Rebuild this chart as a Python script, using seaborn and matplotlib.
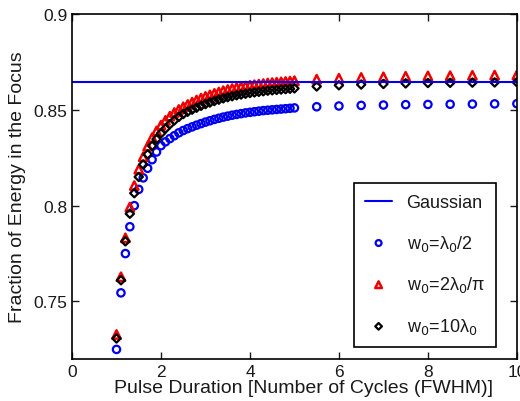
import matplotlib
matplotlib.use("Agg")
import matplotlib.pyplot as plt
import pandas as pd
import seaborn as sns

# pulse duration: dense 0.1 steps up to 5, then 0.5 steps to 10
duration = [1.0, 1.1, 1.2, 1.3, 1.4, 1.5, 1.6, 1.7, 1.8, 1.9,
            2.0, 2.1, 2.2, 2.3, 2.4, 2.5, 2.6, 2.7, 2.8, 2.9,
            3.0, 3.1, 3.2, 3.3, 3.4, 3.5, 3.6, 3.7, 3.8, 3.9,
            4.0, 4.1, 4.2, 4.3, 4.4, 4.5, 4.6, 4.7, 4.8, 4.9,
            5.0, 5.5, 6.0, 6.5, 7.0, 7.5, 8.0, 8.5, 9.0, 9.5, 10.0]

w_half = [0.7250, 0.7545, 0.7750, 0.7890, 0.8000, 0.8085, 0.8145, 0.8195, 0.8240, 0.8280,
          0.8313, 0.8333, 0.8350, 0.8365, 0.8380, 0.8392, 0.8402, 0.8411, 0.8420, 0.8428,
          0.8436, 0.8443, 0.8450, 0.8456, 0.8462, 0.8467, 0.8472, 0.8476, 0.8480, 0.8484,
          0.8487, 0.8490, 0.8493, 0.8496, 0.8498, 0.8500, 0.8502, 0.8504, 0.8506, 0.8508,
          0.8510, 0.8516, 0.8520, 0.8523, 0.8525, 0.8527, 0.8528, 0.8529, 0.8530, 0.8531, 0.8532]

w_2pi = [0.7328, 0.7629, 0.7832, 0.7993, 0.8105, 0.8190, 0.8255, 0.8310, 0.8355, 0.8390,
         0.8420, 0.8445, 0.8467, 0.8486, 0.8502, 0.8516, 0.8528, 0.8540, 0.8551, 0.8561,
         0.8570, 0.8578, 0.8586, 0.8593, 0.8600, 0.8606, 0.8611, 0.8616, 0.8620, 0.8624,
         0.8628, 0.8631, 0.8634, 0.8637, 0.8640, 0.8642, 0.8644, 0.8646, 0.8648, 0.8650,
         0.8652, 0.8660, 0.8665, 0.8669, 0.8672, 0.8675, 0.8677, 0.8678, 0.8680, 0.8681, 0.8682]

w_ten = [0.7307, 0.7611, 0.7814, 0.7958, 0.8065, 0.8150, 0.8215, 0.8268, 0.8312, 0.8347,
         0.8377, 0.8402, 0.8425, 0.8445, 0.8463, 0.8478, 0.8490, 0.8501, 0.8511, 0.8521,
         0.8530, 0.8538, 0.8546, 0.8553, 0.8560, 0.8566, 0.8571, 0.8576, 0.8580, 0.8584,
         0.8588, 0.8591, 0.8594, 0.8597, 0.8600, 0.8602, 0.8604, 0.8606, 0.8608, 0.8610,
         0.8612, 0.8622, 0.8628, 0.8632, 0.8635, 0.8638, 0.8640, 0.8641, 0.8642, 0.8643, 0.8644]

gaussian_x = [0, 10]
gaussian_y = [0.8647, 0.8647]

df = pd.DataFrame({'duration': duration, 'half': w_half, 'twopi': w_2pi, 'ten': w_ten})

sns.set_style("ticks")
plt.rcParams['font.family'] = ['Liberation Sans', 'DejaVu Sans']
plt.rcParams['xtick.direction'] = 'in'
plt.rcParams['ytick.direction'] = 'in'
plt.rcParams['text.color'] = '#1a1a1a'
plt.rcParams['axes.labelcolor'] = '#1a1a1a'
plt.rcParams['xtick.color'] = '#1a1a1a'
plt.rcParams['ytick.color'] = '#1a1a1a'

fig = plt.figure(figsize=(5.2, 4.02), dpi=100)
ax = fig.add_axes([0.1385, 0.1045, 0.8555, 0.8582])

sns.lineplot(x=gaussian_x, y=gaussian_y, color='#0000ee', linewidth=1.5, ax=ax, label='Gaussian')
sns.scatterplot(data=df, x='duration', y='half', marker='o', s=28, facecolor='none',
                edgecolor='#0000ee', linewidth=1.6, ax=ax, label=r'w$_0$=λ$_0$/2')
sns.scatterplot(data=df, x='duration', y='twopi', marker='^', s=36, facecolor='none',
                edgecolor='#ee0000', linewidth=1.8, ax=ax, label=r'w$_0$=2λ$_0$/π')
sns.scatterplot(data=df, x='duration', y='ten', marker='D', s=18, facecolor='none',
                edgecolor='black', linewidth=1.6, ax=ax, label=r'w$_0$=10λ$_0$')

ax.set_xlim(0, 10)
ax.set_ylim(0.72, 0.9)
ax.set_xticks([0, 2, 4, 6, 8, 10])
ax.set_yticks([0.75, 0.8, 0.85, 0.9])
ax.set_yticklabels(['0.75', '0.8', '0.85', '0.9'])
ax.tick_params(labelsize=12.5, top=True, right=True, length=5, width=1)
for s in ax.spines.values():
    s.set_linewidth(1.2)
    s.set_color('black')
ax.set_xlabel('Pulse Duration [Number of Cycles (FWHM)]', fontsize=14, labelpad=0)
ax.xaxis.set_label_coords(0.52, -0.048, transform=None)
ax.xaxis.label.set_verticalalignment('top')
ax.xaxis.set_label_coords(0.52, -0.058)
ax.set_ylabel('Fraction of Energy in the Focus', fontsize=14, labelpad=5)

leg = ax.legend(loc='lower right', bbox_to_anchor=(0.953, 0.035), borderaxespad=0,
                fontsize=13, frameon=True, fancybox=False, framealpha=1, edgecolor='black',
                labelspacing=1.2, handlelength=1.5, markerscale=0.8, borderpad=0.6)
leg.get_frame().set_linewidth(1.2)

fig.savefig('out.png', dpi=100)
